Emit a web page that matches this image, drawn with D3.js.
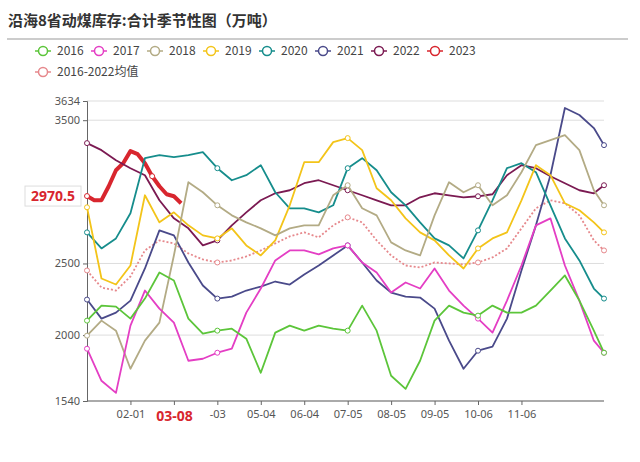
<!DOCTYPE html>
<html><head><meta charset="utf-8">
<script src="https://cdn.jsdelivr.net/npm/d3@7"></script>
<style>
body{margin:0;background:#fff;font-family:"Noto Sans CJK SC","Noto Sans",sans-serif;}
</style></head>
<body><div id="app"></div>
<script>
// day index of each sample (step 10, last one = end of axis)
const days = [0,10,20,30,40,50,60,70,80,90,100,110,120,130,140,150,160,170,180,190,200,210,220,230,240,250,260,270,280,290,300,310,320,330,340,350,357];
const days2023 = [0,5,10,15,20,25,30,35,40,45,50,55,60,65];

const s2016 = [2101,2206,2199,2115,2255,2437,2381,2115,2010,2031,2045,1975,1737,2017,2066,2031,2066,2045,2031,2206,2031,1716,1625,1821,2101,2206,2157,2136,2206,2157,2157,2206,2311,2416,2241,2031,1877];
const s2017 = [1905,1681,1597,2066,2311,2185,2087,1821,1835,1877,1905,2157,2325,2521,2591,2591,2563,2605,2626,2507,2437,2297,2367,2325,2465,2311,2206,2115,2017,2241,2486,2766,2815,2486,2241,1961,1877];
const s2018 = [1996,2101,2031,1765,1961,2087,2556,3067,2997,2906,2836,2787,2745,2696,2745,2766,2766,2976,3046,2885,2836,2647,2591,2556,2836,3067,2997,3046,2906,2976,3137,3326,3361,3396,3291,3011,2906];
const s2019 = [2892,2395,2353,2486,2976,2787,2857,2766,2696,2675,2745,2626,2556,2661,2906,3207,3207,3347,3375,3291,3025,2941,2815,2717,2661,2556,2465,2605,2675,2717,2941,3186,3116,2920,2871,2787,2717];
const s2020 = [2717,2605,2675,2850,3235,3256,3242,3256,3277,3165,3081,3116,3186,2997,2885,2885,2857,2906,3165,3235,3151,2997,2906,2787,2675,2626,2535,2731,2941,3165,3200,3137,2906,2675,2521,2325,2255];
const s2021 = [2248,2115,2157,2241,2465,2731,2696,2507,2346,2255,2269,2311,2339,2374,2353,2423,2486,2556,2626,2507,2381,2297,2269,2262,2185,1961,1765,1891,1919,2115,2451,2766,3116,3585,3536,3445,3326];
const s2022 = [3340,3291,3221,3165,3116,2941,2815,2745,2626,2661,2766,2857,2941,2990,3011,3060,3081,3046,3011,2976,2941,2906,2906,2962,2990,2976,2962,2969,2983,3116,3186,3165,3109,3060,3011,2990,3046];
const s2023 = [2970.5,2942,2942,3039,3151,3200,3284,3263,3200,3109,3039,2983,2969,2920];
const sAvg = [2451,2332,2311,2409,2591,2661,2640,2570,2528,2507,2521,2549,2591,2640,2689,2717,2682,2766,2822,2787,2661,2556,2486,2472,2507,2500,2493,2507,2542,2605,2745,2885,2941,2920,2836,2661,2591];

const yTicks = [1540,2000,2500,3500,3634];
const xTickDays = [30,60,90,120,150,180,210,240,270,300];
const xTickLabels = ["02-01","03-08","-03","05-04","06-04","07-05","08-05","09-05","10-06","11-06"];

const series = [
  {name:"2016", color:"#5cc53a", x:days, v:s2016},
  {name:"2017", color:"#e43ec4", x:days, v:s2017},
  {name:"2018", color:"#b3ab85", x:days, v:s2018},
  {name:"2019", color:"#f3c419", x:days, v:s2019},
  {name:"2020", color:"#168d8c", x:days, v:s2020},
  {name:"2021", color:"#4a4a8a", x:days, v:s2021},
  {name:"2022", color:"#7b1a52", x:days, v:s2022},
  {name:"2023", color:"#d8262e", x:days2023, v:s2023, width:4},
  {name:"2016-2022均值", color:"#e6888c", x:days, v:sAvg, dash:"2,2"}
];

const W = 640, H = 462;
const svg = d3.select("#app").append("svg").attr("width", W).attr("height", H);

svg.append("text").attr("x", 8).attr("y", 26).attr("font-size", 15).attr("font-weight", "bold")
  .attr("fill", "#333").text("沿海8省动煤库存:合计季节性图（万吨）");
svg.append("line").attr("x1", 7).attr("x2", 628).attr("y1", 39).attr("y2", 39).attr("stroke", "#999");

// legend
series.forEach(function(s, i){
  let lx = i < 8 ? 35 + i*56 : 35, ly = i < 8 ? 51 : 72;
  let g = svg.append("g").attr("transform", "translate("+lx+","+ly+")");
  g.append("line").attr("x1", 0).attr("x2", 16).attr("stroke", s.color).attr("stroke-width", 1.5);
  g.append("circle").attr("cx", 8).attr("r", 4.5).attr("fill", "#fff").attr("stroke", s.color).attr("stroke-width", 1.5);
  g.append("text").attr("x", 22).attr("y", 4).attr("font-size", 12).attr("fill", "#444").text(s.name);
});

const x = d3.scaleLinear().domain([0, 357]).range([87, 604]);
const y = d3.scaleLinear().domain([1540, 3634]).range([401, 101]);

// grid
svg.append("g").selectAll("line").data(yTicks).join("line")
  .attr("x1", 87).attr("x2", 604).attr("y1", d => y(d)).attr("y2", d => y(d))
  .attr("stroke", "#ddd");

const yAxis = svg.append("g").attr("transform", "translate(87,0)")
  .call(d3.axisLeft(y).tickValues(yTicks).tickSize(4).tickFormat(d3.format("d")));
yAxis.selectAll("path,line").attr("stroke", "#666");
yAxis.selectAll("text").attr("font-size", 11).attr("fill", "#555").attr("font-family", "Noto Sans");

const xAxis = svg.append("g").attr("transform", "translate(0,401)")
  .call(d3.axisBottom(x).tickValues(xTickDays).tickSize(4).tickFormat((d, i) => xTickLabels[i]));
xAxis.select(".domain").attr("d", "M87,0H604").attr("stroke", "#666");
xAxis.selectAll("line").attr("stroke", "#666");
xAxis.selectAll("text").attr("font-size", 11).attr("fill", "#555").attr("dy", "0.9em").attr("font-family", "Noto Sans")
  .filter((d, i) => i == 1).attr("fill", "#d8262e").attr("font-size", 14).attr("font-weight", "bold");

const line = d3.line().curve(d3.curveLinear);
series.slice().reverse().forEach(function(s){
  let pts = s.v.map((v, i) => [x(s.x[i]), y(v)]);
  svg.append("path").attr("d", line(pts)).attr("fill", "none")
    .attr("stroke", s.color).attr("stroke-width", s.width || 1.8)
    .attr("stroke-dasharray", s.dash || null).attr("stroke-linejoin", "round");
  svg.append("g").selectAll("circle").data(pts.filter((p, i) => i % 9 == 0)).join("circle")
    .attr("cx", d => d[0]).attr("cy", d => d[1]).attr("r", 2.5)
    .attr("fill", "#fff").attr("stroke", s.color).attr("stroke-width", 1);
});

// last value label
const lab = svg.append("g").attr("transform", "translate(25," + y(s2023[0]) + ")");
lab.append("rect").attr("x", 0).attr("y", -10).attr("width", 56).attr("height", 20)
  .attr("fill", "#fff").attr("stroke", "#ddd");
lab.append("text").attr("x", 28).attr("y", 5).attr("text-anchor", "middle").attr("font-size", 14)
  .attr("font-weight", "bold").attr("fill", "#d8262e").attr("font-family", "Noto Sans").text("2970.5");
</script></body></html>
